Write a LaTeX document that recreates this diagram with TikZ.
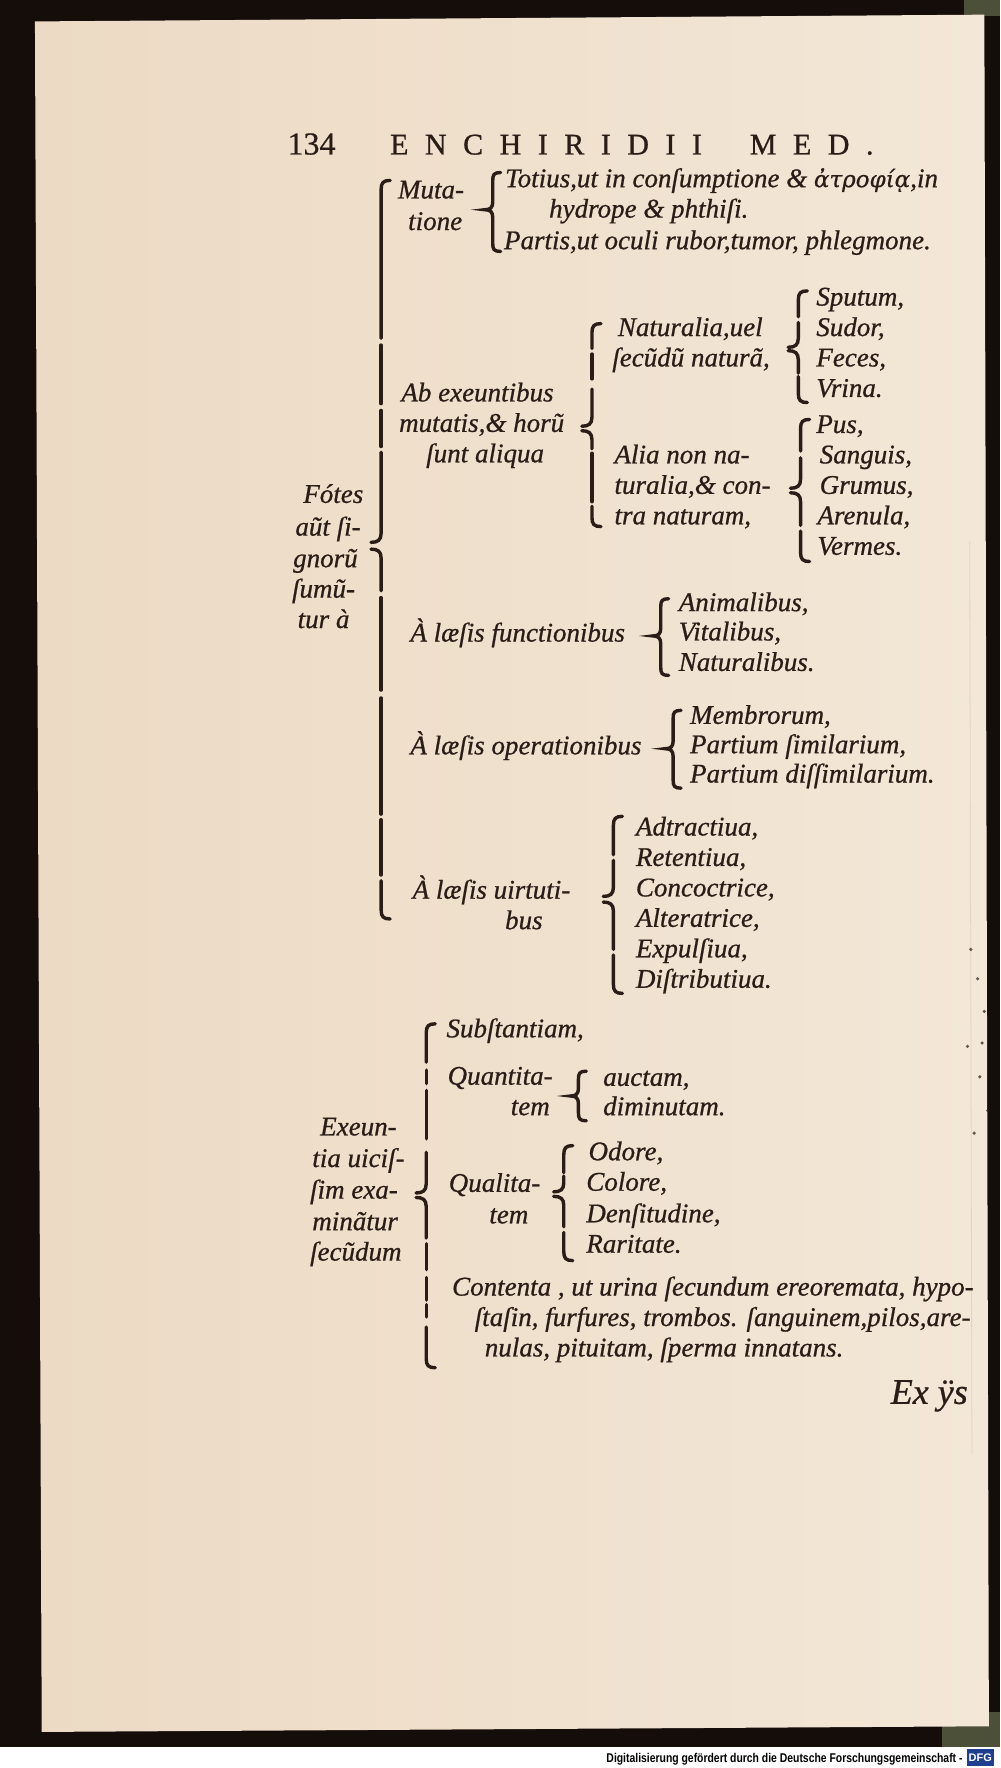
\documentclass[tikz,border=0pt]{standalone}
\usepackage{fontspec}
\usepackage{graphicx}
\setmainfont[ItalicFeatures={FakeBold=0.7},UprightFeatures={FakeBold=0.5}]{Liberation Serif}
\setsansfont{Liberation Sans}
\newfontfamily\headfont[LetterSpace=55,FakeBold=0.8]{Liberation Serif}
\newfontfamily\greekfont[FakeBold=0.5]{DejaVu Serif}
\definecolor{ink}{HTML}{2A1C16}
\definecolor{darkbg}{HTML}{140D09}
\definecolor{paperL}{HTML}{ECDAC4}
\definecolor{paperR}{HTML}{F3E7D7}
\definecolor{olivec}{HTML}{4D5038}
\definecolor{dfgblue}{HTML}{1E3F8F}
% bracket pieces: x, y-from, y-to (coordinates in px, y downwards)
\newcommand\bkTop[3]{\draw[br] ({#1+8},#2) .. controls ({#1+2},#2) and (#1,{#2+2}) .. (#1,{#2+8}) -- (#1,#3);}
\newcommand\bkBot[3]{\draw[br] (#1,#2) -- (#1,{#3-8}) .. controls (#1,{#3-2}) and ({#1+2},#3) .. ({#1+8},#3);}
\newcommand\bkUp[3]{\draw[br] (#1,#2) -- (#1,{#3-8}) .. controls (#1,{#3-2}) and ({#1-3},#3) .. ({#1-9},#3);}
\newcommand\bkDn[3]{\draw[br] ({#1-9},#2) .. controls ({#1-3},#2) and (#1,{#2+2}) .. (#1,{#2+8}) -- (#1,#3);}
\newcommand\bkSeg[3]{\draw[br] (#1,#2) -- (#1,#3);}
% curly brace: x, top, tip, bottom
\newcommand\bkCurly[4]{\draw[br] ({#1+7},#2) .. controls ({#1+1},#2) and (#1,{#2+2}) .. (#1,{#2+7}) -- (#1,{#3-7}) .. controls (#1,{#3-2}) and ({#1-2},#3) .. ({#1-7},#3) .. controls ({#1-2},#3) and (#1,{#3+2}) .. (#1,{#3+7}) -- (#1,{#4-7}) .. controls (#1,{#4-2}) and ({#1+1},#4) .. ({#1+7},#4);}
\begin{document}
\begin{tikzpicture}[x=0.5637pt,y=-0.5637pt,
  br/.style={draw=ink,line width=1.7pt,line cap=round},
  tx/.style={anchor=base west,inner sep=0pt,outer sep=0pt,text=ink,font=\fontsize{13.5}{16}\selectfont\itshape}]
\useasboundingbox (0,0) rectangle (887,1568);
% surroundings
\fill[darkbg] (0,0) rectangle (887,1549);
\fill[olivec] (855,0) rectangle (887,14);
\fill[olivec] (835,1518) rectangle (887,1549);
\fill[white] (0,1549) rectangle (887,1568);
% paper
\shade[left color=paperL,right color=paperR] (31,19) -- (873,13) -- (877,1531) -- (37,1536) -- cycle;
\draw[draw=paperL!80!black,line width=0.4pt,opacity=0.3] (860,480) -- (862,1290);
\foreach \p in {(861,842),(867,868),(873,897),(858,928),(869,955),(876,985),(864,1005),(871,925)}
  \fill[ink,opacity=0.7] \p circle (1.6);
% header
\node[tx,font=\fontsize{16}{18}\selectfont] (pg) at (255,137) {134};
\node[tx,font=\fontsize{15}{18}\headfont] (hd1) at (346,137) {ENCHIRIDII};
\node[tx,font=\fontsize{15}{18}\headfont] (hd2) at (665,137) {MED.};
% block 1
\node[tx] (muta1) at (353,176) {Muta-};
\node[tx] (muta2) at (362,204) {tione};
\node[tx] (tot) at (448,166) {Totius,ut in conſumptione \& {\greekfont\itshape\fontsize{11.5}{14}\selectfont ἀτροφίᾳ},in};
\node[tx] (hyd) at (487,193) {hydrope \& phthiſi.};
\node[tx] (par) at (447,221) {Partis,ut oculi rubor,tumor, phlegmone.};
\node[tx] (sput) at (724,271) {Sputum,};
\node[tx] (nat1) at (548,298) {Naturalia,uel};
\node[tx] (sud) at (724,298) {Sudor,};
\node[tx] (nat2) at (543,325) {ſecũdũ naturã,};
\node[tx] (fec) at (724,325) {Feces,};
\node[tx] (vri) at (724,352) {Vrina.};
\node[tx] (ab1) at (356,356) {Ab exeuntibus};
\node[tx] (ab2) at (354,383) {mutatis,\& horũ};
\node[tx] (pus) at (724,384) {Pus,};
\node[tx] (ab3) at (378,410) {ſunt aliqua};
\node[tx] (alia1) at (545,411) {Alia non na-};
\node[tx] (sang) at (727,411) {Sanguis,};
\node[tx] (alia2) at (545,438) {turalia,\& con-};
\node[tx] (grum) at (727,438) {Grumus,};
\node[tx] (alia3) at (545,465) {tra naturam,};
\node[tx] (aren) at (725,465) {Arenula,};
\node[tx] (verm) at (725,492) {Vermes.};
\node[tx] (fo1) at (269,446) {Fótes};
\node[tx] (fo2) at (262,475) {aũt ſi-};
\node[tx] (fo3) at (260,503) {gnorũ};
\node[tx] (fo4) at (259,530) {ſumũ-};
\node[tx] (fo5) at (264,557) {tur à};
% block 2
\node[tx] (fun) at (364,569) {À læſis functionibus};
\node[tx] (ani) at (602,542) {Animalibus,};
\node[tx] (vit) at (602,568) {Vitalibus,};
\node[tx] (natl) at (602,595) {Naturalibus.};
\node[tx] (ope) at (364,669) {À læſis operationibus};
\node[tx] (mem) at (612,642) {Membrorum,};
\node[tx] (psim) at (612,668) {Partium ſimilarium,};
\node[tx] (pdis) at (612,694) {Partium diſſimilarium.};
\node[tx] (vir1) at (366,797) {À læſis uirtuti-};
\node[tx] (vir2) at (448,824) {bus};
\node[tx] (adt) at (564,741) {Adtractiua,};
\node[tx] (ret) at (564,768) {Retentiua,};
\node[tx] (con) at (564,795) {Concoctrice,};
\node[tx] (alt) at (564,822) {Alteratrice,};
\node[tx] (exp) at (564,849) {Expulſiua,};
\node[tx] (dis) at (564,876) {Diſtributiua.};
% block 3
\node[tx] (sub) at (396,920) {Subſtantiam,};
\node[tx] (qn1) at (397,962) {Quantita-};
\node[tx] (qn2) at (453,989) {tem};
\node[tx] (auc) at (535,963) {auctam,};
\node[tx] (dim) at (535,989) {diminutam.};
\node[tx] (ex1) at (284,1007) {Exeun-};
\node[tx] (ex2) at (277,1035) {tia uiciſ-};
\node[tx] (ex3) at (275,1063) {ſim exa-};
\node[tx] (ex4) at (277,1091) {minãtur};
\node[tx] (ex5) at (275,1118) {ſecũdum};
\node[tx] (ql1) at (398,1057) {Qualita-};
\node[tx] (ql2) at (434,1085) {tem};
\node[tx] (odo) at (522,1029) {Odore,};
\node[tx] (col) at (520,1056) {Colore,};
\node[tx] (den) at (520,1084) {Denſitudine,};
\node[tx] (rar) at (520,1111) {Raritate.};
\node[tx] (ct1) at (401,1149) {Contenta , ut urina ſecundum ereoremata, hypo-};
\node[tx] (ct2) at (421,1176) {ſtaſin, furfures, trombos. ſanguinem,pilos,are-};
\node[tx] (ct3) at (430,1203) {nulas, pituitam, ſperma innatans.};
\node[tx,font=\fontsize{18}{20}\selectfont\itshape] (catch) at (790,1245) {Ex ÿs};
% brackets
% A: Fotes
\bkTop{338}{160}{300}
\bkSeg{338}{306}{358}
\bkSeg{338}{364}{396}
\bkUp{338}{401}{481}
\bkDn{338}{487}{524}
\bkSeg{338}{530}{612}
\bkSeg{338}{619}{722}
\bkSeg{338}{727}{776}
\bkBot{338}{781}{815}
% Mutatione
\bkCurly{437}{153}{186}{223}
% B: Ab exeuntibus
\bkTop{525}{287}{309}
\bkSeg{525}{314}{336}
\bkUp{525}{345}{378}
\bkDn{525}{382}{398}
\bkSeg{525}{402}{445}
\bkBot{525}{449}{467}
% C: Sputum ...
\bkTop{708}{258}{281}
\bkUp{708}{286}{308}
\bkDn{708}{311}{331}
\bkBot{708}{334}{357}
% D: Pus ...
\bkTop{710}{372}{400}
\bkUp{710}{406}{433}
\bkDn{710}{437}{466}
\bkBot{710}{471}{498}
% E, F
\bkCurly{586}{531}{564}{599}
\bkCurly{597}{630}{664}{699}
% G: virtutibus
\bkTop{544}{724}{758}
\bkUp{544}{763}{795}
\bkDn{544}{800}{842}
\bkBot{544}{847}{881}
% H: Exeuntia
\bkTop{378}{908}{942}
\bkSeg{378}{949}{961}
\bkSeg{378}{967}{1010}
\bkUp{378}{1022}{1058}
\bkDn{378}{1062}{1098}
\bkSeg{378}{1103}{1126}
\bkSeg{378}{1133}{1153}
\bkSeg{378}{1157}{1168}
\bkBot{378}{1177}{1213}
% I: Quantitatem
\bkCurly{513}{950}{972}{994}
% J: Qualitatem
\bkTop{500}{1016}{1040}
\bkUp{500}{1043}{1057}
\bkDn{500}{1061}{1088}
\bkBot{500}{1093}{1118}
% footer
\node[anchor=base east,inner sep=0pt,text=black] (foot) at (854,1563)
  {\resizebox{178pt}{4.6pt}{\sffamily\bfseries Digitalisierung gefördert durch die Deutsche Forschungsgemeinschaft -}};
\node[anchor=north west,inner sep=0pt,fill=dfgblue,minimum width=13.5pt,minimum height=8.5pt,
  text=white,font=\sffamily\bfseries\fontsize{5.5}{6}\selectfont] (dfg) at (857,1551) {DFG};
\end{tikzpicture}
\end{document}
